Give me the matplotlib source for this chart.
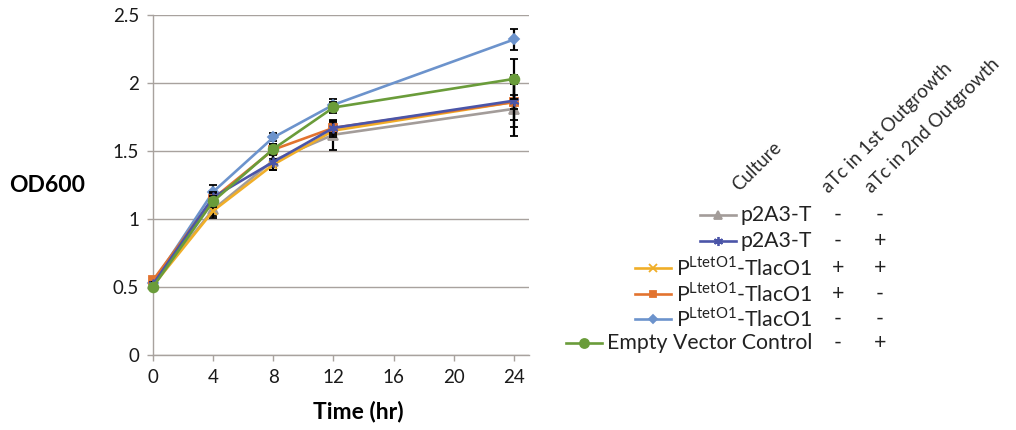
import matplotlib
matplotlib.use('Agg')
import matplotlib.pyplot as plt
from matplotlib.lines import Line2D
from matplotlib.ticker import FuncFormatter

plt.rcParams['font.family'] = ['Lato', 'DejaVu Sans']

# data
times = [0, 4, 8, 12, 24]
names = ['p2A3-T', 'p2A3-T',
         'P$^{\\mathregular{LtetO1}}$-TlacO1',
         'P$^{\\mathregular{LtetO1}}$-TlacO1',
         'P$^{\\mathregular{LtetO1}}$-TlacO1',
         'Empty Vector Control']
atc_1st = ['-', '-', '+', '+', '-', '-']
atc_2nd = ['-', '+', '+', '-', '-', '+']
od = [
    [0.52, 1.07, 1.43, 1.62, 1.81],
    [0.52, 1.16, 1.42, 1.67, 1.87],
    [0.51, 1.06, 1.40, 1.65, 1.86],
    [0.55, 1.15, 1.51, 1.67, 1.86],
    [0.53, 1.20, 1.60, 1.84, 2.32],
    [0.50, 1.13, 1.515, 1.82, 2.03],
]
err = [
    [0.02, 0.06, 0.05, 0.11, 0.20],
    [0.02, 0.04, 0.06, 0.04, 0.19],
    [0.02, 0.04, 0.04, 0.05, 0.05],
    [0.02, 0.04, 0.04, 0.05, 0.13],
    [0.02, 0.05, 0.03, 0.04, 0.08],
    [0.01, 0.04, 0.04, 0.04, 0.15],
]

colors = ['#A39C99', '#4B55A8', '#F0AE28', '#E2732F', '#6C93CC', '#6A9C3A']
markers = ['^', (6, 2, 0), 'x', 's', 'D', 'o']
msizes = [6.5, 7, 6, 5.5, 5, 7]
draw_order = [4, 0, 2, 3, 1, 5]

W, H = 1016, 430
fig = plt.figure(figsize=(W / 100, H / 100), dpi=100)
ax = fig.add_axes([153 / W, 1 - 355 / H, 376 / W, 340 / H])

grid_col = '#A8A29E'
for z, i in enumerate(draw_order):
    ax.errorbar(times, od[i], yerr=err[i], color=colors[i], marker=markers[i],
                markersize=msizes[i], linewidth=1.9, markeredgewidth=1.3,
                ecolor='black', elinewidth=1.6, capsize=2.8, capthick=1.6,
                zorder=3 + z, clip_on=False)

ax.set_xlim(0, 25)
ax.set_ylim(0, 2.5)
ax.set_xticks([0, 4, 8, 12, 16, 20, 24])
ax.set_yticks([0, 0.5, 1, 1.5, 2, 2.5])
ax.yaxis.set_major_formatter(FuncFormatter(lambda v, p: '%g' % v))
ax.grid(axis='y', color=grid_col, linewidth=1.0)
ax.set_axisbelow(True)
for s in ['top', 'right']:
    ax.spines[s].set_visible(False)
for s in ['left', 'bottom']:
    ax.spines[s].set_color(grid_col)
    ax.spines[s].set_linewidth(1.0)
ax.tick_params(colors=grid_col, labelcolor='#1a1a1a', labelsize=13.5,
               length=4, width=1.0, pad=6)

# overlay in pixel coordinates for labels and the legend table
lax = fig.add_axes([0, 0, 1, 1])
lax.set_xlim(0, W)
lax.set_ylim(H, 0)
lax.axis('off')

lax.text(47, 185, 'OD600', fontsize=16.5, fontweight='bold', ha='center', va='center')
lax.text(358, 411, 'Time (hr)', fontsize=16.5, fontweight='bold', ha='center', va='center')

hdr_col = '#2a2a2a'
lax.text(739, 192, 'Culture', fontsize=13.5, rotation=45, rotation_mode='anchor',
         ha='left', va='baseline', color=hdr_col)
lax.text(829, 194, 'aTc in 1st Outgrowth', fontsize=13.5, rotation=45,
         rotation_mode='anchor', ha='left', va='baseline', color=hdr_col)
lax.text(872, 194, 'aTc in 2nd Outgrowth', fontsize=13.5, rotation=45,
         rotation_mode='anchor', ha='left', va='baseline', color=hdr_col)

row_y = [215, 241, 268, 294, 319, 343]
labels = []
for i, name in enumerate(names):
    t = lax.text(812, row_y[i], name, fontsize=15.3, ha='right', va='center',
                 color='#222222')
    labels.append(t)
    lax.text(838, row_y[i], atc_1st[i], fontsize=15.3, ha='center', va='center',
             color='#222222')
    lax.text(880, row_y[i], atc_2nd[i], fontsize=15.3, ha='center', va='center',
             color='#222222')

fig.canvas.draw()
inv = lax.transData.inverted()
for i, t in enumerate(labels):
    bb = t.get_window_extent()
    x0 = inv.transform((bb.x0, bb.y0))[0] - 5
    lax.add_line(Line2D([x0 - 36, x0], [row_y[i], row_y[i]], color=colors[i],
                        linewidth=1.9))
    lax.add_line(Line2D([x0 - 18], [row_y[i]], color=colors[i], marker=markers[i],
                        markersize=msizes[i] - 0.5, markeredgewidth=1.3,
                        linestyle='none'))

fig.savefig('out.png', dpi=100)
